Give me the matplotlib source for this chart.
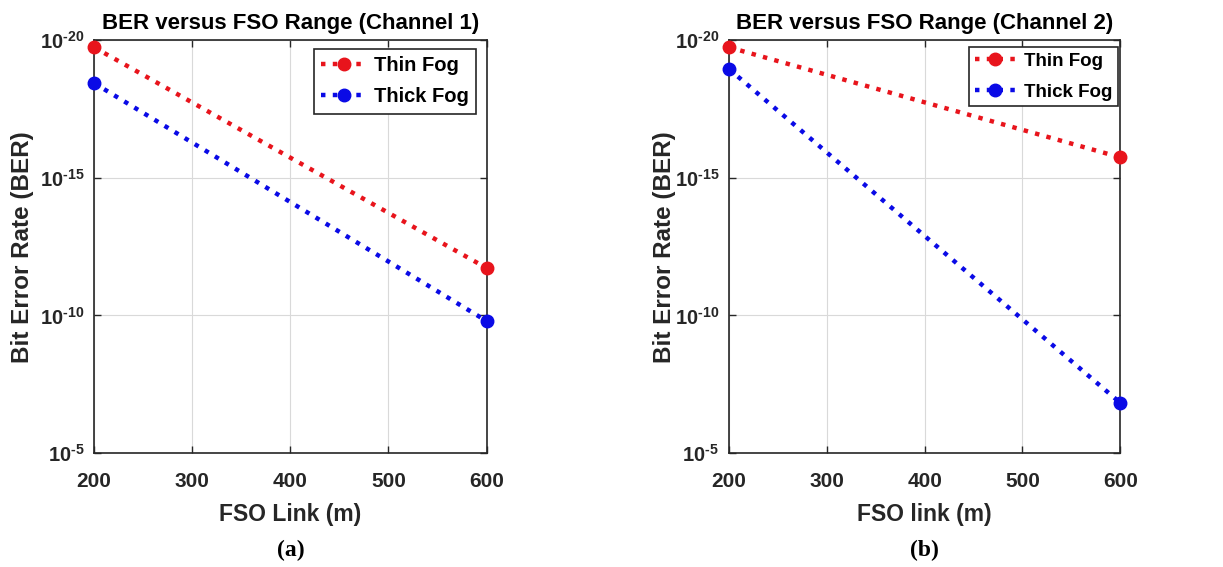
import numpy as np
import matplotlib
matplotlib.use("Agg")
import matplotlib.pyplot as plt
from matplotlib.ticker import FixedLocator, FuncFormatter, NullLocator

# -----------------------------
# Data
# -----------------------------
link_m = [200, 600]

ch1_thin = [1.8e-20, 1.9e-12]
ch1_thick = [3.6e-19, 1.6e-10]

ch2_thin = [1.8e-20, 1.8e-16]
ch2_thick = [1.1e-19, 1.5e-7]

titles = ["BER versus FSO Range (Channel 1)", "BER versus FSO Range (Channel 2)"]
xlabels = ["FSO Link (m)", "FSO link (m)"]
captions = ["(a)", "(b)"]
yticks = [1e-20, 1e-15, 1e-10, 1e-5]
xticks = [200, 300, 400, 500, 600]

plt.rcParams["font.family"] = ["Liberation Sans", "DejaVu Sans"]
plt.rcParams["font.weight"] = "bold"
plt.rcParams["mathtext.fontset"] = "custom"
plt.rcParams["mathtext.rm"] = "Liberation Sans:bold"
plt.rcParams["mathtext.bf"] = "Liberation Sans:bold"
plt.rcParams["mathtext.default"] = "bf"

RED = "#e8141c"
BLUE = "#0a0ae6"
INK = "#262626"

fig = plt.figure(figsize=(12.23, 5.67), dpi=100)
positions = [[0.0769, 0.201, 0.321, 0.728], [0.596, 0.201, 0.320, 0.728]]
data = [(ch1_thin, ch1_thick), (ch2_thin, ch2_thick)]
ylab_pads = [4, -1]

# legend look differs a little between the two panels
leg_opts = [
    dict(fontsize=14.5, borderpad=0.35, labelspacing=0.6,
         bbox_to_anchor=(0.972, 0.978)),
    dict(fontsize=13.5, borderpad=0.3, labelspacing=0.75,
         bbox_to_anchor=(0.993, 0.984)),
]


def sci_fmt(v, pos):
    return r"$10^{\text{-}%d}$" % abs(int(round(np.log10(v))))


for i in range(2):
    ax = fig.add_axes(positions[i])
    thin, thick = data[i]
    ax.plot(link_m, thin, ":", color=RED, lw=3.2, marker="o", ms=9,
            label="Thin Fog", clip_on=False, zorder=3)
    ax.plot(link_m, thick, ":", color=BLUE, lw=3.2, marker="o", ms=9,
            label="Thick Fog", clip_on=False, zorder=3)

    ax.set_yscale("log")
    ax.set_ylim(1e-5, 1e-20)  # reversed, as in the original
    ax.set_xlim(200, 600)
    ax.yaxis.set_major_locator(FixedLocator(yticks))
    ax.yaxis.set_minor_locator(NullLocator())
    ax.yaxis.set_major_formatter(FuncFormatter(sci_fmt))
    ax.set_xticks(xticks)

    ax.grid(True, color="#d9d9d9", lw=0.8)
    ax.tick_params(direction="in", top=True, right=True, length=5, width=1,
                   colors=INK)
    ax.tick_params(axis="x", labelsize=15, pad=14)
    ax.tick_params(axis="y", labelsize=14.5, pad=7)
    for s in ax.spines.values():
        s.set_color(INK)
        s.set_linewidth(1.2)

    ax.set_title(titles[i], fontsize=16, fontweight="bold", pad=8)
    ax.set_xlabel(xlabels[i], fontsize=16.5, fontweight="bold", color=INK,
                  labelpad=8)
    ax.set_ylabel("Bit Error Rate (BER)", fontsize=17.5, fontweight="bold",
                  color=INK, labelpad=ylab_pads[i])

    leg = ax.legend(loc="upper right", fancybox=False, framealpha=1,
                    edgecolor=INK, handlelength=2.2, handletextpad=0.4,
                    borderaxespad=0, **leg_opts[i])
    leg.get_frame().set_linewidth(1.2)

    x_mid = positions[i][0] + positions[i][2] / 2
    fig.text(x_mid, 0.03, captions[i], ha="center", va="center",
             fontsize=17, fontweight="bold", family="Liberation Serif")

fig.savefig("out.png", dpi=100)
